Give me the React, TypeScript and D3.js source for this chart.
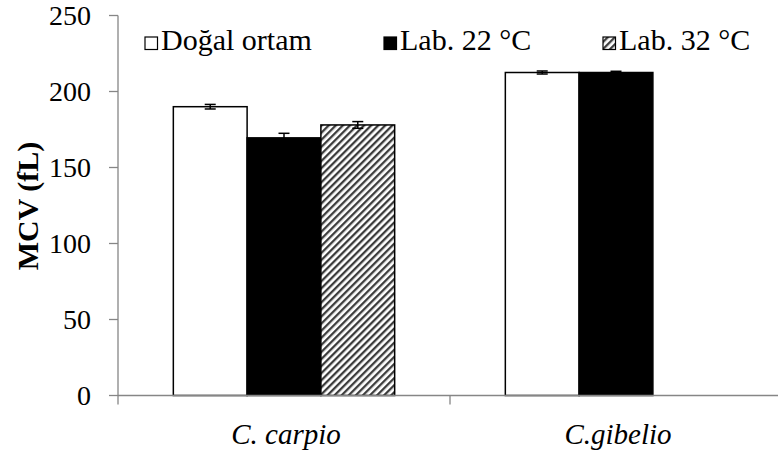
import * as d3 from 'd3';

const categories = ['C. carpio', 'C.gibelio'];
const seriesNames = ['Doğal ortam', 'Lab. 22 °C', 'Lab. 32 °C'];
const dogalValues = [190, 212.5];
const lab22Values = [169.5, 212.5];
const lab32Values = [178, null];
const dogalErrors = [1.5, 1];
const lab22Errors = [3, 0.8];
const lab32Errors = [2.2, null];
const yTicks = [0, 50, 100, 150, 200, 250];

const W = 778;
const H = 452;
const FONT = "'Liberation Serif', Tinos, 'Times New Roman', FreeSerif, serif";
const AXIS = '#868686';

export default function App() {
  const left = 118;
  const top = 15.5;
  const bottom = 395.5;

  const y = d3.scaleLinear().domain([0, 250]).range([bottom, top]);
  const x0 = d3.scaleBand().domain(categories).range([left, left + 664]).paddingInner(0).paddingOuter(0);
  const x1 = d3.scaleBand().domain(seriesNames).range([0, x0.bandwidth()]).paddingInner(0).paddingOuter(0.75);

  const fills = ['#ffffff', '#000000', 'url(#hatch)'];
  const valueSets = [dogalValues, lab22Values, lab32Values];
  const errorSets = [dogalErrors, lab22Errors, lab32Errors];

  const rows = [];
  categories.forEach((c, ci) => {
    seriesNames.forEach((s, si) => {
      const v = valueSets[si][ci];
      if (v == null) return;
      rows.push({ c, s, si, v, e: errorSets[si][ci] });
    });
  });

  const legendX = [145, 384, 603];

  return (
    <div style={{ position: 'absolute', left: 0, top: 0, fontFamily: FONT }}>
      <style>{`svg text { font-family: ${FONT}; }`}</style>
      <svg width={W} height={H} fontFamily={FONT} style={{ display: 'block' }}>
        <defs>
          <pattern id="hatch" patternUnits="userSpaceOnUse" width={5} height={5} patternTransform="rotate(45)">
            <rect width={5} height={5} fill="#fff" />
            <rect x={0} y={0} width={2.3} height={5} fill="#3c3c3c" />
          </pattern>
        </defs>

        {/* y axis */}
        <line x1={left} x2={left} y1={top} y2={bottom} stroke={AXIS} strokeWidth={1.3} />
        {yTicks.map(t => (
          <g key={t}>
            <line x1={left - 9} x2={left} y1={y(t)} y2={y(t)} stroke={AXIS} strokeWidth={1.3} />
            <text x={91} y={y(t)} dy="0.35em" textAnchor="end" fontSize={28}>{t}</text>
          </g>
        ))}

        {/* bars */}
        {rows.map(d => (
          <rect key={d.c + d.s}
            x={x0(d.c) + x1(d.s)} y={y(d.v)}
            width={x1.bandwidth()} height={bottom - y(d.v)}
            fill={fills[d.si]} stroke="#000" strokeWidth={1.5} />
        ))}

        {/* error bars */}
        <g stroke="#000" strokeWidth={1.5}>
          {rows.map(d => {
            const cx = x0(d.c) + x1(d.s) + x1.bandwidth() / 2;
            const hi = y(d.v + d.e);
            const lo = y(d.v - d.e);
            return (
              <g key={d.c + d.s}>
                <line x1={cx} x2={cx} y1={hi} y2={lo} />
                <line x1={cx - 5.5} x2={cx + 5.5} y1={hi} y2={hi} />
                <line x1={cx - 5.5} x2={cx + 5.5} y1={lo} y2={lo} />
              </g>
            );
          })}
        </g>

        {/* x axis */}
        <line x1={left} x2={W} y1={bottom} y2={bottom} stroke={AXIS} strokeWidth={1.3} />
        {categories.map(c => (
          <line key={c} x1={x0(c)} x2={x0(c)} y1={bottom} y2={bottom + 9} stroke={AXIS} strokeWidth={1.3} />
        ))}
        {categories.map(c => (
          <text key={c} x={x0(c) + x0.bandwidth() / 2 + 2} y={444} textAnchor="middle"
            fontStyle="italic" fontSize={29}>{c}</text>
        ))}

        {/* y title */}
        <text transform={`translate(27,206) rotate(-90)`} textAnchor="middle" dy="0.35em"
          fontWeight="bold" fontSize={30}>MCV (fL)</text>

        {/* legend */}
        {seriesNames.map((s, i) => (
          <g key={s}>
            <rect x={legendX[i]} y={37} width={12.5} height={12.5} fill={fills[i]} stroke="#000" strokeWidth={1.2} />
            <text x={legendX[i] + 16} y={50} fontSize={30}>{s}</text>
          </g>
        ))}
      </svg>
    </div>
  );
}
